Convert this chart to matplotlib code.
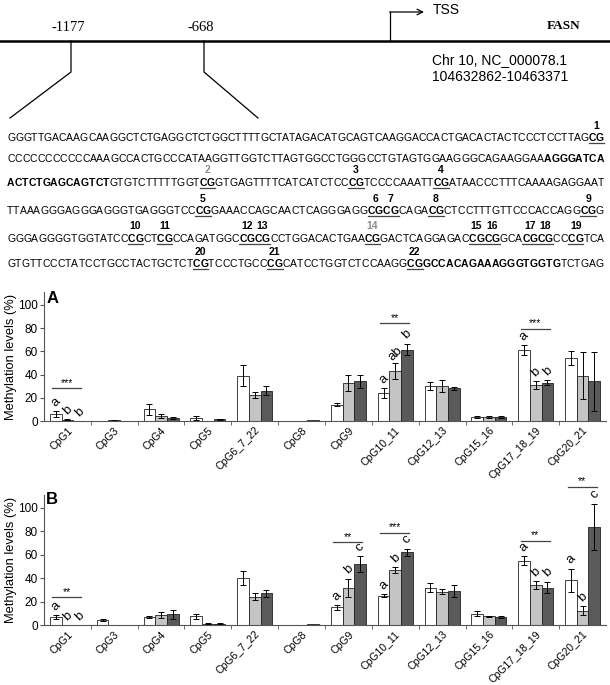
import numpy as np
import matplotlib
matplotlib.use("Agg")
import matplotlib.pyplot as plt
from matplotlib.font_manager import FontProperties

plt.rcParams['font.family'] = ['Liberation Sans', 'DejaVu Sans']

# promoter sequence, one list per printed row
# n = plain, b = bold, u = numbered CpG (bold + underline)
row1 = [("GGGTTGACAAGCAAGGCTCTGAGGCTCTGGCTTTTGCTATAGACATGCAGTCAAGGACCACTGACACTACTCCCTCCTTAG", "n"),
        ("CG", "u", ["1"])]
row2 = [("CCCCCCCCCCCAAAGCCACTGCCCATAAGGTTGGTCTTAGTGGCCTGGGCCTGTAGTGGAAGGGCAGAAGGAA", "n"),
        ("AGGGATCA", "b")]
row3 = [("ACTCTGAGCAGTCT", "b"), ("GTGTCTTTTTGGT", "n"), ("CG", "u", ["2"]),
        ("GTGAGTTTTCATCATCTCC", "n"), ("CG", "u", ["3"]), ("TCCCCAAATT", "n"),
        ("CG", "u", ["4"]), ("ATAACCCTTTCAAAAGAGGAAT", "n")]
row4 = [("TTAAAGGGAGGGAGGGTGAGGGTCC", "n"), ("CG", "u", ["5"]), ("GAAACCAGCAACTCAGGGAGG", "n"),
        ("CGCG", "u", ["6", "7"]), ("CAGA", "n"), ("CG", "u", ["8"]),
        ("CTCCTTTGTTCCCACCAGG", "n"), ("CG", "u", ["9"]), ("G", "n")]
row5 = [("GGGAGGGGTGGTATCC", "n"), ("CG", "u", ["10"]), ("CT", "n"), ("CG", "u", ["11"]),
        ("CCAGATGGC", "n"), ("CGCG", "u", ["12", "13"]), ("CCTGGACACTGAA", "n"),
        ("CG", "u", ["14"]), ("GACTCAGGAGAC", "n"), ("CGCG", "u", ["15", "16"]), ("GCA", "n"),
        ("CGCG", "u", ["17", "18"]), ("CC", "n"), ("CG", "u", ["19"]), ("TCA", "n")]
row6 = [("GTGTTCCCTATCCTGCCTACTGCTCT", "n"), ("CG", "u", ["20"]), ("TCCCTGCC", "n"),
        ("CG", "u", ["21"]), ("CATCCTGGTCTCCAAGG", "n"), ("CG", "u", ["22"]),
        ("GCCACAGAAAGGGTGGTG", "b"), ("TCTGAG", "n")]
seq_rows = [row1, row2, row3, row4, row5, row6]
gray_numbers = ["2", "14"]

cpg_sites = ["CpG1", "CpG3", "CpG4", "CpG5", "CpG6_7_22", "CpG8", "CpG9",
             "CpG10_11", "CpG12_13", "CpG15_16", "CpG17_18_19", "CpG20_21"]

# panel A
a_g1 = [6, 0, 10, 2.5, 39, 0.3, 14, 24, 30, 3.7, 61, 54]
a_g1_err = [2.5, 0, 5, 1.5, 9, 0, 1.5, 4, 3.5, 1, 4, 6]
a_g2 = [1, 0.8, 4.5, 0, 22.5, 0.3, 33, 43, 30, 3.7, 31, 39]
a_g2_err = [0.5, 0.4, 1.5, 0, 2.5, 0, 7, 7, 5, 1, 3.5, 20]
a_g3 = [0, 0, 2.5, 1.5, 26, 0.5, 34, 61.5, 28, 3.2, 33, 34]
a_g3_err = [0, 0, 1, 0.5, 4, 0, 6, 5, 1.5, 1, 2, 25]
a_sig_site = [0, 7, 10]
a_sig_height = [28, 84, 79]
a_sig_stars = ["***", "**", "***"]
a_letters = [["a", "b", "b"], ["a", "ab", "b"], ["a", "b", "b"]]

# panel B
b_g1 = [6.7, 4, 6.7, 7.3, 40, 0.3, 15, 25, 32, 9.8, 55, 38]
b_g1_err = [1.5, 1, 1, 2, 6, 0, 2, 1.5, 3.5, 2, 4, 10]
b_g2 = [0, 0, 8.7, 1.2, 24, 0.3, 31.6, 47, 28.6, 7.3, 34, 12.3]
b_g2_err = [0, 0, 2.5, 0.5, 3, 0, 8, 2.5, 2.5, 0.5, 3.5, 4]
b_g3 = [0, 0, 9, 1.2, 27, 0.5, 52, 62, 29, 6.7, 32, 83.7]
b_g3_err = [0, 0, 3.5, 0.5, 3, 0, 6.5, 3, 5, 1, 5, 20]
b_sig_site = [0, 6, 7, 10, 11]
b_sig_height = [23.5, 70.5, 78.4, 72, 118]
b_sig_stars = ["**", "**", "***", "**", "**"]
b_letters = [["a", "b", "b"], ["a", "b", "c"], ["a", "b", "c"], ["a", "b", "b"], ["a", "b", "c"]]

bar_colors = ["white", "#c4c4c4", "#5a5a5a"]

fig = plt.figure(figsize=(6.1, 6.85), dpi=100)

# top part drawn in pixel coordinates
top = fig.add_axes([0, 0, 1, 1])
top.set_xlim(0, 610)
top.set_ylim(685, 0)
top.axis('off')

top.plot([0, 610], [41, 41], color='black', lw=1.8)
top.plot([71, 71, 10], [41, 72, 118], color='black', lw=0.9)
top.plot([204, 204, 258], [41, 72, 118], color='black', lw=0.9)
top.text(68, 27, "-1177", family='Liberation Serif', fontsize=10.5, ha='center', va='center')
top.text(201, 27, "-668", family='Liberation Serif', fontsize=10.5, ha='center', va='center')
top.plot([390, 390], [41, 12], color='black', lw=0.9)
top.annotate("", xy=(424, 12), xytext=(389.6, 12),
             arrowprops=dict(arrowstyle='->', lw=0.9, color='black', shrinkA=0, shrinkB=0))
top.text(433, 10, "TSS", fontsize=10, ha='left', va='center')
top.text(580, 26, "FASN", family='Liberation Serif', fontweight='bold', fontsize=9.5,
         ha='right', va='center')
top.text(432, 60, "Chr 10, NC_000078.1", fontsize=10, ha='left', va='center')
top.text(432, 77, "104632862-10463371", fontsize=10, ha='left', va='center')

# sequence, justified between x_left and x_right
renderer = fig.canvas.get_renderer()
fp_plain = FontProperties(family='Liberation Sans', size=7.5)
fp_bold = FontProperties(family='Liberation Sans', size=7.5, weight='bold')
seq_fp = {'n': fp_plain, 'b': fp_bold, 'u': fp_bold}
row_y = [137.5, 158.5, 182, 210.5, 238, 263.5]
x_left, x_right = 7, 604

for y, row in zip(row_y, seq_rows):
    chars, styles = [], []
    for seg in row:
        chars += list(seg[0])
        styles += [seg[1]] * len(seg[0])
    adv = np.array([renderer.get_text_width_height_descent(c, seq_fp[s], ismath=False)[0]
                    for c, s in zip(chars, styles)])
    adv = adv * (x_right - x_left) / adv.sum()
    xs = x_left + np.concatenate([[0], np.cumsum(adv)[:-1]])
    for c, s, xc in zip(chars, styles, xs):
        top.text(xc, y + 3.7, c, fontproperties=seq_fp[s], ha='left', va='baseline')
    pos = 0
    for seg in row:
        n = len(seg[0])
        if seg[1] == 'u':
            top.plot([xs[pos], xs[pos + n - 1] + adv[pos + n - 1]], [y + 5.8, y + 5.8],
                     color='#444444', lw=0.9)
            for k, num in enumerate(seg[2]):
                xm = xs[pos + 2 * k] + (adv[pos + 2 * k] + adv[pos + 2 * k + 1]) / 2
                top.text(xm, y - 12, num, fontproperties=fp_bold, ha='center', va='center',
                         color='#8c8c8c' if num in gray_numbers else 'black')
        pos += n


def panel(rect, groups, errors, sig_site, sig_height, sig_stars, letters, tag, tag_y):
    ax = fig.add_axes(rect)
    ax.set_facecolor('none')
    x = np.arange(len(cpg_sites))
    w = 0.25
    for k in range(3):
        xs = x + (k - 1) * w
        vals = np.array(groups[k], dtype=float)
        errs = np.array(errors[k], dtype=float)
        ax.bar(xs, vals, w, color=bar_colors[k], edgecolor='#222222', linewidth=0.6)
        m = errs > 0
        ax.errorbar(xs[m], vals[m], yerr=errs[m], fmt='none', ecolor='black',
                    elinewidth=0.7, capsize=2, capthick=0.7)
    for j, i in enumerate(sig_site):
        h = sig_height[j]
        ax.plot([i - 0.32, i + 0.3], [h, h], color='#444444', lw=0.9, clip_on=False)
        ax.annotate(sig_stars[j], (i - 0.01, h), xytext=(0, 0.5), textcoords='offset points',
                    ha='center', va='bottom', fontsize=7.5, annotation_clip=False)
        for k in range(3):
            topv = groups[k][i] + errors[k][i]
            ax.annotate(letters[j][k], (i + (k - 1) * w, topv), xytext=(0, 6.5),
                        textcoords='offset points', ha='center', va='center',
                        rotation=45, fontsize=9.5, annotation_clip=False)
    ax.text(-0.45, tag_y, tag, fontsize=12, fontweight='bold', va='center', ha='left')
    ax.set_xlim(-0.5, len(cpg_sites) - 0.5)
    ax.set_ylim(0, 111)
    ax.set_yticks(range(0, 101, 20))
    ax.set_xticks(x)
    ax.set_xticklabels(cpg_sites, rotation=45, ha='right', rotation_mode='anchor', fontsize=7.6)
    ax.set_xticks(np.arange(0.5, len(cpg_sites) - 0.5, 1), minor=True)
    ax.tick_params(axis='x', which='major', length=0, pad=3)
    ax.tick_params(axis='x', which='minor', length=3, direction='out', color='#555555')
    ax.tick_params(axis='y', length=3, direction='out', labelsize=8.5, pad=1.5, color='#555555')
    for side in ['top', 'right']:
        ax.spines[side].set_visible(False)
    for side in ['left', 'bottom']:
        ax.spines[side].set_color('#555555')
    ax.set_ylabel("Methylation levels (%)", fontsize=9.3, labelpad=0.5)
    return ax


panel([44 / 610, 264 / 685, 562 / 610, 129 / 685],
      [a_g1, a_g2, a_g3], [a_g1_err, a_g2_err, a_g3_err],
      a_sig_site, a_sig_height, a_sig_stars, a_letters, "A", 105)
panel([44 / 610, 60 / 685, 562 / 610, 130 / 685],
      [b_g1, b_g2, b_g3], [b_g1_err, b_g2_err, b_g3_err],
      b_sig_site, b_sig_height, b_sig_stars, b_letters, "B", 107)

fig.savefig("out.png", dpi=100)
